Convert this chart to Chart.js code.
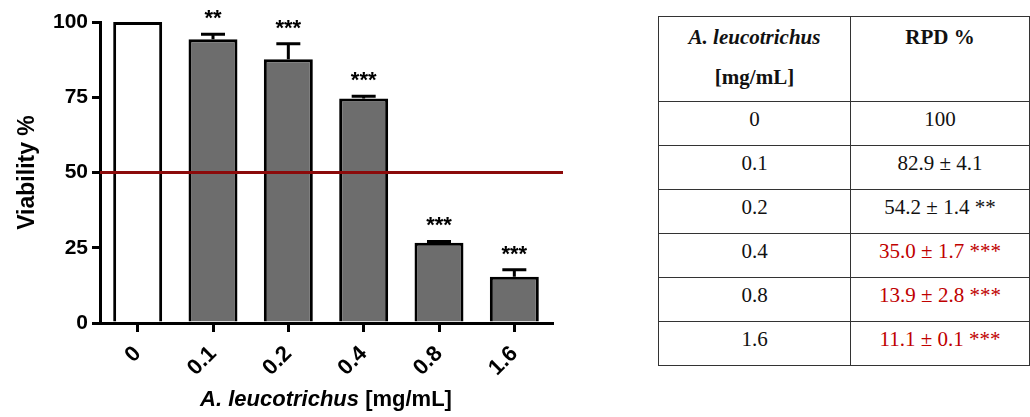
<!DOCTYPE html>
<html>
<head>
<meta charset="utf-8">
<script src="https://cdn.jsdelivr.net/npm/chart.js@4/dist/chart.umd.min.js"></script>
<style>
  html, body { margin: 0; padding: 0; background: #fff; }
  body { width: 1030px; height: 417px; position: relative; overflow: hidden; }
  #chartBox { position: absolute; left: 0; top: 0; width: 640px; height: 417px; }
  #rpdTable {
    position: absolute; left: 658px; top: 16px; width: 372px;
    border-collapse: collapse;
    font-family: "Palatino Linotype", "Book Antiqua", Palatino, "Liberation Serif", serif;
    font-size: 21px; color: #111;
  }
  #rpdTable td, #rpdTable th {
    border: 1.5px solid #333; text-align: center; padding: 0 0 9px 0;
    height: 34px; vertical-align: middle; font-weight: normal;
  }
  #rpdTable th { height: 84px; vertical-align: top; line-height: 40px; font-weight: bold; padding: 0; }
  #rpdTable td:first-child, #rpdTable th:first-child { width: 191px; }
  .hl { color: #c00000; }
</style>
</head>
<body>
<div id="chartBox"><canvas id="viabilityChart"></canvas></div>
<table id="rpdTable">
  <thead>
    <tr><th><i>A. leucotrichus</i><br>[mg/mL]</th><th>RPD %</th></tr>
  </thead>
  <tbody id="rpdBody"></tbody>
</table>
<script>
// bar chart data
var concentrations = ['0', '0.1', '0.2', '0.4', '0.8', '1.6'];
var viability = [100, 94.3, 87.6, 74.6, 26.7, 15.4];
var viabilityErr = [0, 1.6, 5.2, 0.7, 0.4, 2.3];
var significance = ['', '**', '***', '***', '***', '***'];
var thresholdValue = 50;

// table data
var rpdValues = ['100', '82.9 ± 4.1', '54.2 ± 1.4', '35.0 ± 1.7', '13.9 ± 2.8', '11.1 ± 0.1'];
var rpdStars = ['', '', '**', '***', '***', '***'];
var rpdHighlight = [false, false, false, true, true, true];

var sansFont = 'Arial, "Liberation Sans", sans-serif';

// fill the table
var body = document.getElementById('rpdBody');
concentrations.forEach(function(c, i) {
  var tr = document.createElement('tr');
  var td1 = document.createElement('td');
  td1.textContent = c;
  var td2 = document.createElement('td');
  td2.textContent = rpdValues[i] + (rpdStars[i] ? ' ' + rpdStars[i] : '');
  if (rpdHighlight[i]) td2.className = 'hl';
  tr.appendChild(td1);
  tr.appendChild(td2);
  body.appendChild(tr);
});

// error bars, stars, the 50% line and the x title
var extrasPlugin = {
  id: 'extras',
  afterDatasetsDraw: function(chart) {
    var ctx = chart.ctx;
    var yScale = chart.scales.y;
    var meta = chart.getDatasetMeta(0);
    var area = chart.chartArea;

    ctx.save();
    ctx.strokeStyle = '#000';
    ctx.lineWidth = 3;
    ctx.fillStyle = '#000';
    ctx.font = 'bold 22px ' + sansFont;
    ctx.textAlign = 'center';
    ctx.textBaseline = 'alphabetic';
    meta.data.forEach(function(bar, i) {
      var top = yScale.getPixelForValue(viability[i] + viabilityErr[i]);
      if (viabilityErr[i] > 0) {
        ctx.beginPath();
        ctx.moveTo(bar.x, bar.y);
        ctx.lineTo(bar.x, top);
        ctx.moveTo(bar.x - 12, top);
        ctx.lineTo(bar.x + 12, top);
        ctx.stroke();
      }
      if (significance[i]) {
        ctx.fillText(significance[i], bar.x, top - 9);
      }
    });

    // threshold line
    var yLine = yScale.getPixelForValue(thresholdValue);
    ctx.strokeStyle = '#8b0a0a';
    ctx.lineWidth = 3;
    ctx.beginPath();
    ctx.moveTo(area.left, yLine);
    ctx.lineTo(area.right + 11, yLine);
    ctx.stroke();

    // x axis title, species name in italics
    var part1 = 'A. leucotrichus';
    var part2 = ' [mg/mL]';
    var f1 = 'italic bold 22px ' + sansFont;
    var f2 = 'bold 22px ' + sansFont;
    ctx.font = f1;
    var w1 = ctx.measureText(part1).width;
    ctx.font = f2;
    var w2 = ctx.measureText(part2).width;
    var x0 = (area.left + area.right) / 2 - (w1 + w2) / 2;
    ctx.textAlign = 'left';
    ctx.fillStyle = '#000';
    ctx.font = f1;
    ctx.fillText(part1, x0, 406);
    ctx.font = f2;
    ctx.fillText(part2, x0 + w1, 406);
    ctx.restore();
  }
};

var ctx = document.getElementById('viabilityChart').getContext('2d');
new Chart(ctx, {
  type: 'bar',
  data: {
    labels: concentrations,
    datasets: [{
      data: viability,
      backgroundColor: ['#ffffff', '#6d6d6d', '#6d6d6d', '#6d6d6d', '#6d6d6d', '#6d6d6d'],
      borderColor: '#000',
      borderWidth: 3,
      borderSkipped: 'start',
      categoryPercentage: 1,
      barPercentage: 0.65
    }]
  },
  options: {
    responsive: true,
    maintainAspectRatio: false,
    animation: false,
    layout: { padding: { top: 22, right: 88, bottom: 0, left: 0 } },
    plugins: {
      legend: { display: false },
      tooltip: { enabled: false }
    },
    scales: {
      x: {
        offset: true,
        grid: { display: true, offset: false, drawOnChartArea: false, drawTicks: true, tickLength: 9, color: '#000', lineWidth: 3 },
        border: { display: true, color: '#000', width: 3 },
        ticks: {
          color: '#000',
          font: { family: sansFont, size: 22, weight: 'bold' },
          minRotation: 45,
          maxRotation: 45,
          padding: 9
        },
        afterFit: function(scale) { scale.height = 94; }
      },
      y: {
        min: 0,
        max: 100,
        grid: { display: true, drawOnChartArea: false, drawTicks: true, tickLength: 8, color: '#000', lineWidth: 3 },
        border: { display: true, color: '#000', width: 3 },
        ticks: {
          stepSize: 25,
          color: '#000',
          font: { family: sansFont, size: 21, weight: 'bold' },
          padding: 4
        },
        title: {
          display: true,
          text: 'Viability %',
          color: '#000',
          font: { family: sansFont, size: 23, weight: 'bold' },
          padding: { top: 14, bottom: 0 }
        },
        afterFit: function(scale) { scale.width = 100; }
      }
    }
  },
  plugins: [extrasPlugin]
});
</script>
</body>
</html>
